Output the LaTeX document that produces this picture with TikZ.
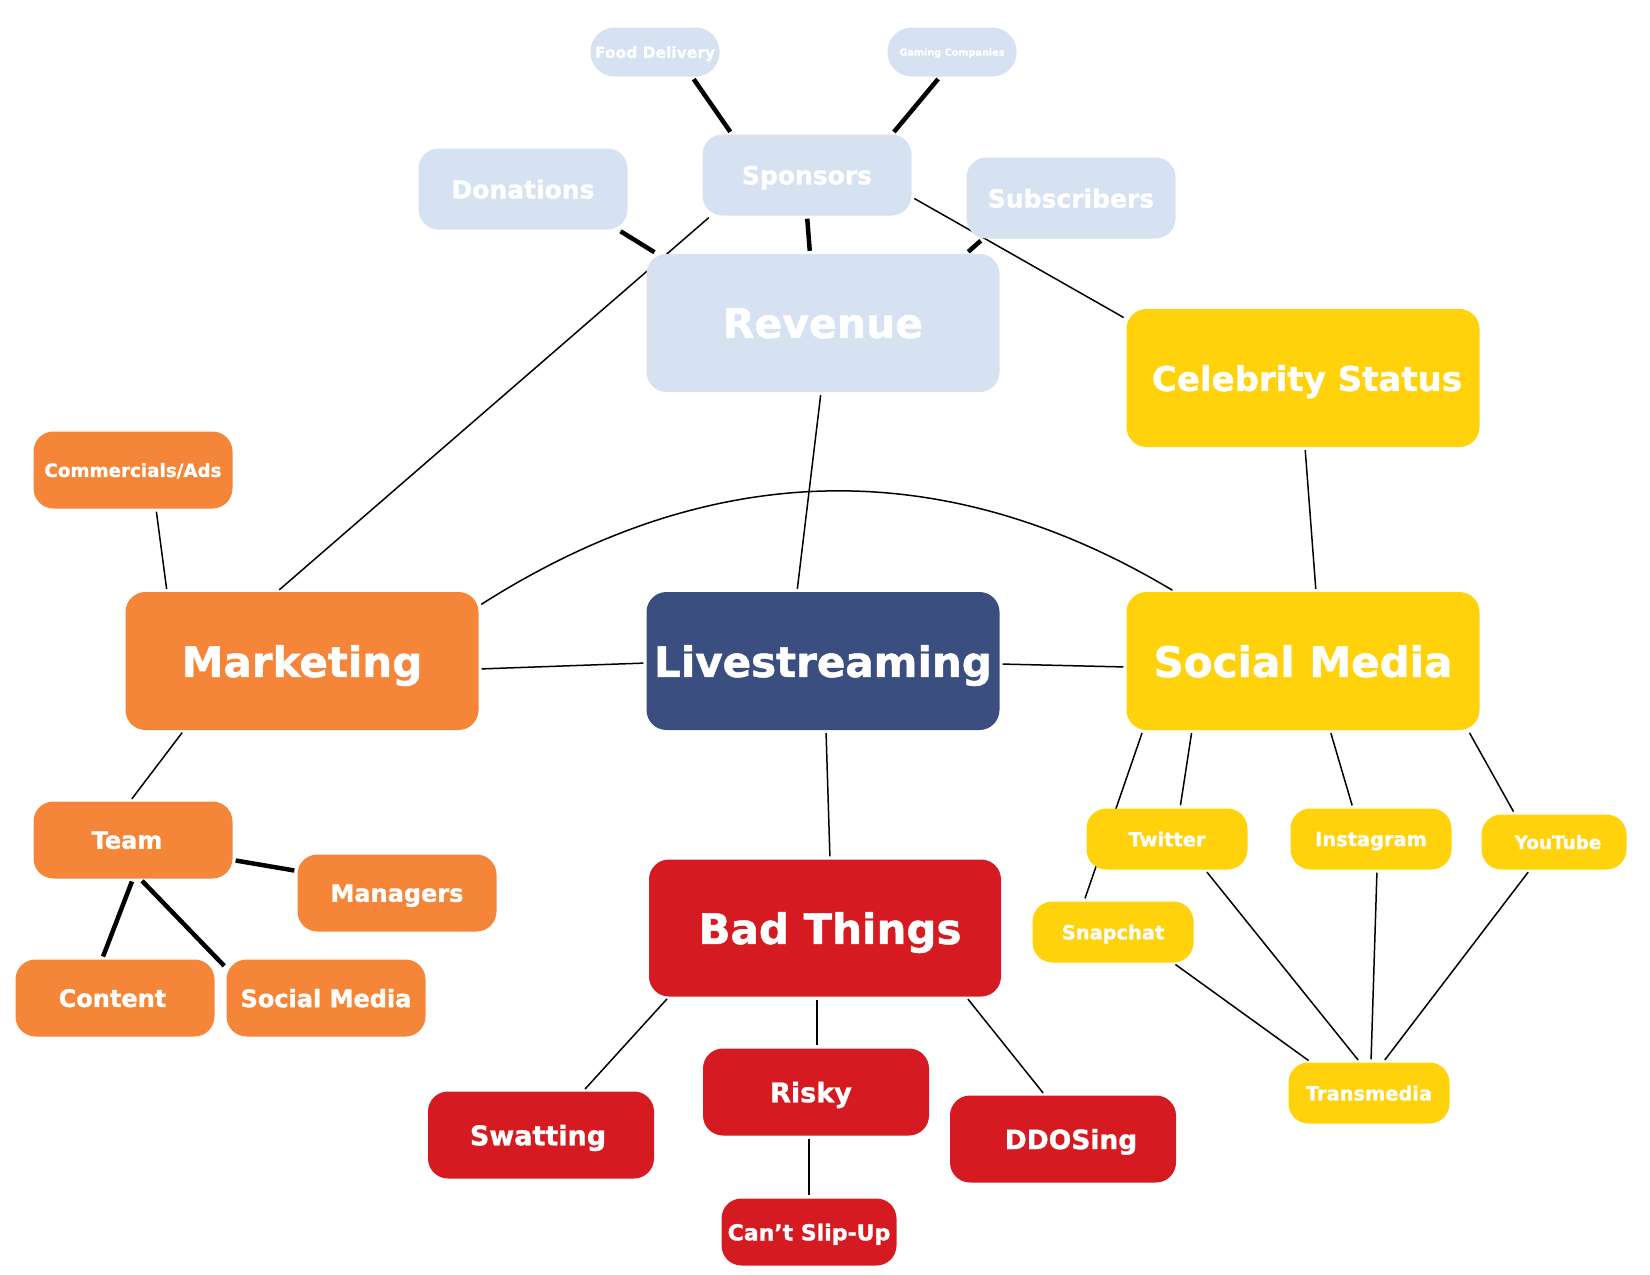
\documentclass[tikz,border=0pt]{standalone}
\usepackage{fontspec}
\setmainfont{DejaVu Sans}
\newfontfamily\heavyfont{DejaVu Sans Bold}[FakeBold=1.2]
\usetikzlibrary{backgrounds}
\definecolor{RevBlue}{RGB}{214,225,242}
\definecolor{MktOrange}{RGB}{245,133,56}
\definecolor{SocYellow}{RGB}{255,210,12}
\definecolor{BadRed}{RGB}{214,26,33}
\definecolor{LiveNavy}{RGB}{59,78,128}
\newcommand{\fsz}[1]{\fontsize{#1}{#1}\selectfont}
\tikzset{
    box/.style={
        rectangle, rounded corners=20pt, inner sep=0pt, text=white, font=\heavyfont, text depth=0pt
    },
    big/.style={minimum width=353pt, minimum height=138pt},
    mid/.style={minimum width=209pt, minimum height=81pt},
    small/.style={minimum width=199pt, minimum height=77pt},
    tiny/.style={minimum width=161pt, minimum height=61pt},
    pill/.style={box, rounded corners=24pt, minimum width=129pt, minimum height=49pt},
    revbox/.style={box, fill=RevBlue},
    mktbox/.style={box, fill=MktOrange},
    socbox/.style={box, fill=SocYellow},
    badbox/.style={box, fill=BadRed},
    livebox/.style={box, fill=LiveNavy},
    link/.style={line width=1.5pt, shorten <=3pt, shorten >=3pt},
    heavylink/.style={link, line width=4.5pt}
}
\begin{document}
\begin{tikzpicture}[x=1pt, y=-1pt]
    \useasboundingbox (0,0) rectangle (1650,1275);
    % centre
    \node[livebox, big] (live) at (823,661) {\fsz{42}Livestreaming};
    % revenue
    \node[revbox, big] (rev) at (823,323) {\fsz{41}Revenue};
    \node[revbox, mid] (spon) at (807,175) {\fsz{25}Sponsors};
    \node[revbox, mid] (don) at (523,189) {\fsz{25}Donations};
    \node[revbox, mid] (subs) at (1071,198) {\fsz{25}Subscribers};
    \node[revbox, pill] (food) at (655,52) {\fsz{15.5}Food Delivery};
    \node[revbox, pill] (gaming) at (952,52) {\fsz{9.7}Gaming Companies};
    % marketing
    \node[mktbox, big] (mkt) at (302,661) {\fsz{42}Marketing};
    \node[mktbox, small] (ads) at (133,470) {\fsz{18.3}Commercials/Ads};
    \node[mktbox, small] (team) at (133,840) {\fsz{24}\hspace*{-12pt}Team};
    \node[mktbox, small] (mgr) at (397,893) {\fsz{24}Managers};
    \node[mktbox, small] (content) at (115,998) {\fsz{24}\hspace*{-5pt}Content};
    \node[mktbox, small] (teamsoc) at (326,998) {\fsz{24}Social Media};
    % social media
    \node[socbox, big] (celeb) at (1303,378) {\fsz{34}\hspace*{8pt}Celebrity Status};
    \node[socbox, big] (socm) at (1303,661) {\fsz{42}Social Media};
    \node[socbox, tiny] (twit) at (1167,839) {\fsz{19.4}Twitter};
    \node[socbox, tiny] (insta) at (1371,839) {\fsz{19.4}Instagram};
    \node[socbox, tiny, minimum width=145pt, minimum height=55pt] (yt) at (1554,842) {\fsz{18.4}\hspace*{8pt}YouTube};
    \node[socbox, tiny] (snap) at (1113,932) {\fsz{19.4}Snapchat};
    \node[socbox, tiny] (trans) at (1369,1093) {\fsz{19.4}Transmedia};
    % bad things
    \node[badbox, big, minimum width=352pt, minimum height=137pt] (bad) at (825,928) {\fsz{42}\hspace*{10pt}Bad Things};
    \node[badbox, minimum width=226pt, minimum height=87pt] (swat) at (541,1135) {\fsz{27}\hspace*{-6pt}Swatting};
    \node[badbox, minimum width=226pt, minimum height=87pt] (risky) at (816,1092) {\fsz{27}\hspace*{-10pt}Risky};
    \node[badbox, minimum width=226pt, minimum height=87pt] (ddos) at (1063,1139) {\fsz{26.5}\hspace*{16pt}DDOSing};
    \node[badbox, minimum width=175pt, minimum height=67pt] (slip) at (809,1232) {\fsz{22}Can’t Slip-Up};

    \begin{scope}[on background layer]
        \draw[heavylink] ([xshift=37pt]food.south) -- ([xshift=-75pt]spon.north);
        \draw[heavylink] ([xshift=-12pt]gaming.south) -- ([xshift=85pt]spon.north);
        \draw[heavylink] ([xshift=95pt]don.south) -- ([xshift=-166pt]rev.north);
        \draw[heavylink] (spon.south) -- ([xshift=-13pt]rev.north);
        \draw[heavylink] ([xshift=-88pt]subs.south) -- ([xshift=143pt]rev.north);
        \draw[link] ([xshift=-96pt]spon.south) -- ([xshift=-25pt]mkt.north);
        \draw[link] ([yshift=-22pt]spon.east) -- ([yshift=59pt]celeb.west);
        \draw[link] ([xshift=-2pt]rev.south) -- ([xshift=-26pt]live.north);
        \draw[link] ([xshift=2pt]celeb.south) -- ([xshift=13pt]socm.north);
        \draw[link] ([yshift=-8pt]mkt.east) -- ([yshift=-2pt]live.west);
        \draw[link] ([yshift=-3pt]live.east) -- ([yshift=-6pt]socm.west);
        \draw[link] ([xshift=3pt]live.south) -- ([xshift=5pt]bad.north);
        \draw[link] ([yshift=55pt]mkt.east) .. controls (711,458) and (943,453) .. ([xshift=-128pt]socm.north);
        % marketing side
        \draw[link] ([xshift=23pt]ads.south) -- ([xshift=-135pt]mkt.north);
        \draw[link] ([xshift=-118pt]mkt.south) -- ([xshift=-3pt]team.north);
        \draw[heavylink] ([yshift=-20pt]team.east) -- ([yshift=22pt]mgr.west);
        \draw[heavylink] (team.south) -- ([xshift=-13pt]content.north);
        \draw[heavylink] ([xshift=7pt]team.south) -- ([yshift=30pt]teamsoc.west);
        % bad things side
        \draw[link] ([xshift=-156pt]bad.south) -- ([xshift=42pt]swat.north);
        \draw[link] ([xshift=-8pt]bad.south) -- ([xshift=1pt]risky.north);
        \draw[link] ([xshift=141pt]bad.south) -- ([xshift=-18pt]ddos.north);
        \draw[link] ([xshift=-7pt]risky.south) -- (slip.north);
        % social media side
        \draw[link] ([xshift=-111pt]socm.south) -- ([xshift=13pt]twit.north);
        \draw[link] ([xshift=-160pt]socm.south) -- ([xshift=-29pt]snap.north);
        \draw[link] ([xshift=27pt]socm.south) -- ([xshift=-18pt]insta.north);
        \draw[link] ([xshift=165pt]socm.south) -- ([xshift=-39pt]yt.north);
        \draw[link] ([xshift=60pt]snap.south) -- ([xshift=-58pt]trans.north);
        \draw[link] ([xshift=38pt]twit.south) -- ([xshift=-9pt]trans.north);
        \draw[link] ([xshift=6pt]insta.south) -- ([xshift=2pt]trans.north);
        \draw[link] ([xshift=-24pt]yt.south) -- ([xshift=14pt]trans.north);
    \end{scope}
\end{tikzpicture}
\end{document}
